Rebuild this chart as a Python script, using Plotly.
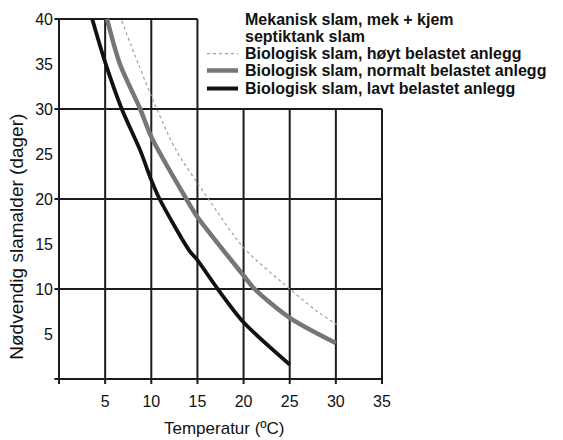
import plotly.graph_objects as go

# ---- data ----
hoyt_x = [6.8, 8.6, 10.6, 12.7, 16.2, 20.0, 25.0, 28.0, 30.3]
hoyt_y = [39.8, 35.0, 30.0, 25.4, 20.0, 14.6, 10.0, 7.5, 5.9]

normalt_x = [5.2, 6.6, 8.8, 10.0, 13.8, 15.0, 20.0, 21.2, 25.0, 30.0]
normalt_y = [40.0, 35.0, 30.0, 26.9, 20.0, 18.0, 11.5, 10.0, 6.8, 4.0]

lavt_x = [3.6, 5.0, 6.8, 8.8, 10.0, 10.9, 14.1, 15.0, 17.2, 20.0, 25.0]
lavt_y = [40.0, 35.2, 30.0, 25.4, 22.1, 20.0, 14.3, 13.2, 10.0, 6.3, 1.6]

x_ticks = [5, 10, 15, 20, 25, 30, 35]
y_ticks = [5, 10, 15, 20, 25, 30, 35, 40]

legend_lines = [
    "Mekanisk slam, mek + kjem",
    "septiktank slam",
    "Biologisk slam, høyt belastet anlegg",
    "Biologisk slam, normalt belastet anlegg",
    "Biologisk slam, lavt belastet anlegg",
]

x_title = "Temperatur (ºC)"
y_title = "Nødvendig slamalder (dager)"

# grid layout: vertical lines and their top; horizontal lines and their right end
grid_v = [0, 5, 10, 15, 20, 25, 30, 35]
grid_v_top = [40, 40, 40, 40, 30, 30, 30, 30]
grid_h = [0, 10, 20, 30, 40]
grid_h_right = [35, 35, 35, 35, 15]

FONT = "Liberation Sans, Arial, sans-serif"
GRID = "#1c1c1c"

styles = {
    "hoyt": dict(color="#a0a0a0", width=1.2, dash="dot"),
    "normalt": dict(color="#767676", width=4.5, dash="solid"),
    "lavt": dict(color="#111111", width=3.8, dash="solid"),
}

fig = go.Figure()
for key, xs, ys in [("hoyt", hoyt_x, hoyt_y), ("normalt", normalt_x, normalt_y), ("lavt", lavt_x, lavt_y)]:
    fig.add_trace(go.Scatter(x=xs, y=ys, mode="lines", line=dict(shape="spline", smoothing=0.8, **styles[key]),
                             showlegend=False, hoverinfo="skip"))

shapes = []
for gx, top in zip(grid_v, grid_v_top):
    shapes.append(dict(type="line", xref="x", yref="y", x0=gx, x1=gx, y0=-0.55, y1=top,
                       line=dict(color=GRID, width=2), layer="below"))
for gy, right in zip(grid_h, grid_h_right):
    shapes.append(dict(type="line", xref="x", yref="y", x0=-0.5, x1=right, y0=gy, y1=gy,
                       line=dict(color=GRID, width=2), layer="below"))

# legend (samples + text lines)
leg_x0, leg_x1 = 0.462, 0.556
leg_text_x = 0.574
leg_text_y = [0.990, 0.945, 0.898, 0.852, 0.803]
sample_keys = [None, None, "hoyt", "normalt", "lavt"]
annotations = []
for txt, ty, key in zip(legend_lines, leg_text_y, sample_keys):
    annotations.append(dict(text=txt, xref="paper", yref="paper", x=leg_text_x, y=ty,
                            xanchor="left", yanchor="middle", showarrow=False, borderpad=0,
                            font=dict(family=FONT, size=16, color="#111", weight="bold")))
    if key:
        st = styles[key]
        shapes.append(dict(type="line", xref="paper", yref="paper", x0=leg_x0, x1=leg_x1, y0=ty, y1=ty,
                           line=dict(color=st["color"], width=st["width"], dash=st["dash"])))

annotations.append(dict(text=x_title, xref="paper", yref="paper", x=0.516, y=-0.120,
                        xanchor="center", yanchor="middle", showarrow=False, borderpad=0,
                        font=dict(family=FONT, size=17, color="#111")))
annotations.append(dict(text=y_title, xref="paper", yref="paper", x=-0.112, y=0.40, textangle=-90,
                        xanchor="center", yanchor="middle", showarrow=False,
                        font=dict(family=FONT, size=19, color="#111")))

fig.update_layout(
    width=563, height=440,
    margin=dict(l=54, r=178, t=16, b=56, pad=0),
    paper_bgcolor="white", plot_bgcolor="white",
    shapes=shapes, annotations=annotations,
    showlegend=False,
    font=dict(family=FONT, size=16, color="#111"),
)
fig.update_xaxes(range=[-0.542, 35.325], tickvals=x_ticks, ticktext=[str(v) for v in x_ticks],
                 showgrid=False, zeroline=False, showline=False, ticks="", ticklabelstandoff=6,
                 tickfont=dict(family=FONT, size=16, color="#111"))
fig.update_yaxes(range=[-0.556, 40.333], tickvals=y_ticks, ticktext=[str(v) for v in y_ticks],
                 showgrid=False, zeroline=False, showline=False, ticks="", ticklabelstandoff=0,
                 tickfont=dict(family=FONT, size=16, color="#111"))

fig.write_html("out.html", config={"displayModeBar": False},
               post_script="document.body.style.margin='0';document.body.style.overflow='hidden';")
